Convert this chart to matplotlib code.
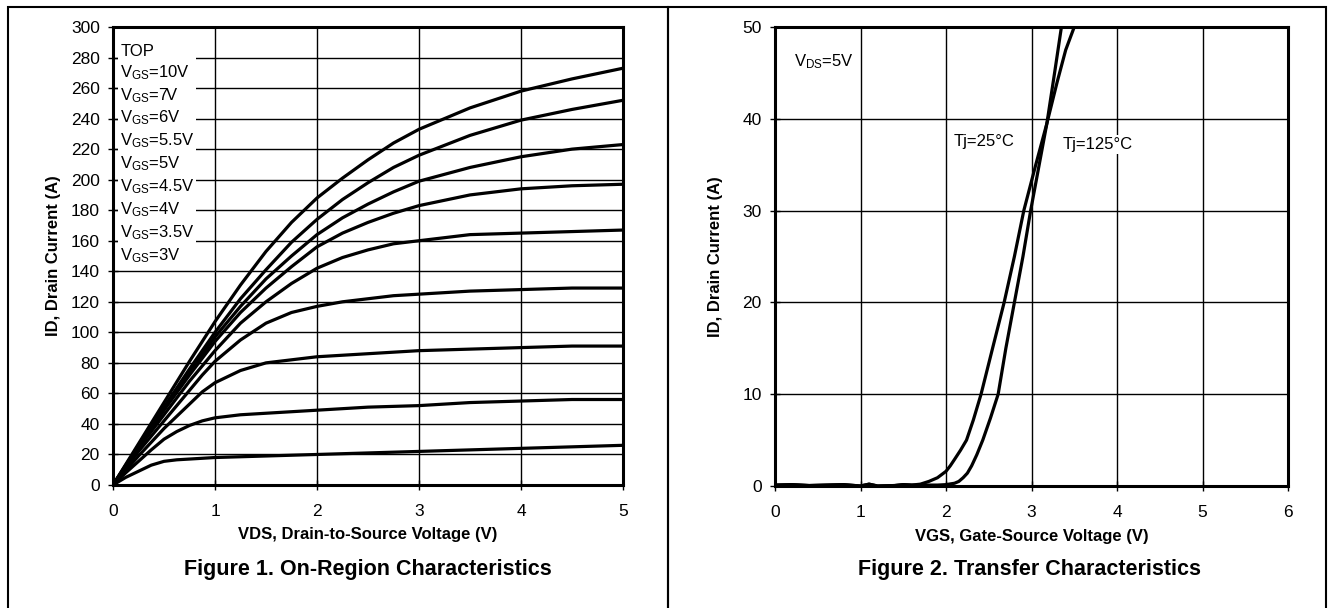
import numpy as np
import matplotlib
matplotlib.use("Agg")
import matplotlib.pyplot as plt
from matplotlib.patches import Rectangle

# --------------------------------------------------------------------------
# Data
# --------------------------------------------------------------------------

# Figure 1 - output curves, ID (A) vs VDS (V)
vds = [0, 0.125, 0.25, 0.375, 0.5, 0.625, 0.75, 0.875, 1.0, 1.25, 1.5, 1.75,
       2.0, 2.25, 2.5, 2.75, 3.0, 3.5, 4.0, 4.5, 5.0]
id_10v = [0, 13.5, 27, 40.5, 54, 67.5, 81, 94, 107, 131, 153, 172,
          188, 201, 213, 224, 233, 247, 258, 266, 273]
id_7v = [0, 13, 26, 38.5, 51, 63.5, 76, 88, 100, 122, 141, 159,
         174, 187, 198, 208, 216, 229, 239, 246, 252]
id_6v = [0, 12.5, 25, 37.5, 50, 62, 74, 85.5, 97, 117, 135, 150,
         164, 175, 184, 192, 199, 208, 215, 220, 223]
id_5v5 = [0, 12.5, 25, 37, 49, 60.5, 72, 83, 94, 113, 129, 143,
          156, 165, 172, 178, 183, 190, 194, 196, 197]
id_5v = [0, 12, 24, 35, 46, 57, 68, 78, 88, 106, 120, 132,
         142, 149, 154, 158, 160, 164, 165, 166, 167]
id_4v5 = [0, 11, 22, 32, 42, 52, 62, 72, 81, 95, 106, 113,
          117, 120, 122, 124, 125, 127, 128, 129, 129]
id_4v = [0, 9.5, 19, 28, 37, 45, 53, 61, 67, 75, 80, 82,
         84, 85, 86, 87, 88, 89, 90, 91, 91]
id_3v5 = [0, 8, 15.5, 23, 30, 35, 39, 42, 44, 46, 47, 48,
          49, 50, 51, 51.5, 52, 54, 55, 56, 56]
id_3v = [0, 5, 9, 13, 15.5, 16.5, 17, 17.5, 18, 18.5, 19, 19.5,
         20, 20.5, 21, 21.5, 22, 23, 24, 25, 26]
output_curves = [id_10v, id_7v, id_6v, id_5v5, id_5v, id_4v5, id_4v, id_3v5, id_3v]
vgs_labels = ["10V", "7V", "6V", "5.5V", "5V", "4.5V", "4V", "3.5V", "3V"]

# Figure 2 - transfer curves, ID (A) vs VGS (V), VDS = 5V
vgs_a = [0, 0.2, 0.4, 0.6, 0.8, 1.0, 1.1, 1.2, 1.4, 1.5, 1.6, 1.7, 1.8, 1.9, 2.0,
         2.05, 2.1, 2.17, 2.24, 2.32, 2.41, 2.55, 2.68, 2.8, 2.91, 3.05, 3.18,
         3.3, 3.4, 3.5]
id_a = [0.1, 0.15, 0.05, 0.1, 0.15, 0.0, 0.2, 0.0, 0.05, 0.15, 0.1, 0.2, 0.5, 0.9, 1.6,
        2.2, 2.9, 3.9, 5.0, 7.2, 10, 15.2, 20, 25, 30, 35, 39.5,
        44, 47.5, 50]
vgs_b = [0, 0.2, 0.4, 0.6, 0.8, 1.0, 1.1, 1.2, 1.4, 1.5, 1.6, 1.7, 1.8, 1.9, 2.0,
         2.1, 2.15, 2.2, 2.25, 2.3, 2.36, 2.43, 2.52, 2.61, 2.7, 2.8, 2.9, 2.99,
         3.09, 3.18, 3.27, 3.35]
id_b = [0.1, 0.15, 0.05, 0.1, 0.15, 0.0, 0.2, 0.0, 0.05, 0.15, 0.1, 0.1, 0.1, 0.1, 0.15,
        0.3, 0.5, 0.9, 1.4, 2.2, 3.4, 5.0, 7.4, 10, 15, 20, 25, 30,
        35, 39.5, 45, 50]

# --------------------------------------------------------------------------
# Style
# --------------------------------------------------------------------------

FONT = ["Liberation Sans", "DejaVu Sans"]
plt.rcParams["font.family"] = FONT
plt.rcParams["mathtext.fontset"] = "custom"
plt.rcParams["mathtext.rm"] = "Liberation Sans"
plt.rcParams["mathtext.it"] = "Liberation Sans"

fig = plt.figure(figsize=(13.3, 6.08), dpi=100)

# panel frames
fig.patches.append(Rectangle((8 / 1330, -0.1), 660 / 1330, 1.1 - 6.5 / 608,
                             transform=fig.transFigure, fill=False, lw=1.5, ec="black"))
fig.patches.append(Rectangle((668 / 1330, -0.1), 658 / 1330, 1.1 - 6.5 / 608,
                             transform=fig.transFigure, fill=False, lw=1.5, ec="black"))

ax1 = fig.add_axes([113 / 1330, 1 - 485 / 608, 510 / 1330, 458 / 608])
ax2 = fig.add_axes([775 / 1330, 1 - 486 / 608, 513 / 1330, 459 / 608])


def style_axes(ax):
    ax.grid(True, color="black", lw=1.0)
    ax.set_axisbelow(True)
    for s in ax.spines.values():
        s.set_linewidth(2.2)
    ax.tick_params(direction="inout", length=7, width=1.0, labelsize=12.5,
                   colors="black")
    ax.tick_params(axis="x", pad=10)
    ax.tick_params(axis="y", pad=6)


# --------------------------------------------------------------------------
# Figure 1
# --------------------------------------------------------------------------

for curve in output_curves:
    ax1.plot(vds, curve, color="black", lw=2.3, solid_capstyle="round")
ax1.set_xlim(0, 5)
ax1.set_ylim(0, 300)
ax1.set_xticks(range(0, 6))
ax1.set_yticks(range(0, 301, 20))
style_axes(ax1)

legend_text = "TOP\n" + "\n".join(r"V$_{\mathrm{GS}}$=" + v for v in vgs_labels)
ax1.text(0.07, 289, legend_text, fontsize=12, va="top", ha="left",
         linespacing=1.3, zorder=5,
         bbox=dict(fc="white", ec="none", pad=1.5))

ax1.set_xlabel("VDS, Drain-to-Source Voltage (V)", fontsize=12, fontweight="bold")
ax1.set_ylabel("ID, Drain Current (A)", fontsize=12, fontweight="bold")
ax1.xaxis.label.set_va("center")
ax1.xaxis.set_label_coords(0.5, (485 - 535) / 458)
ax1.yaxis.label.set_va("center")
ax1.yaxis.set_label_coords((53 - 113) / 510, 0.5)

fig.text(368 / 1330, 1 - 570 / 608, "Figure 1. On-Region Characteristics",
         fontsize=15.5, fontweight="bold", ha="center", va="center")

# --------------------------------------------------------------------------
# Figure 2
# --------------------------------------------------------------------------

ax2.plot(vgs_a, id_a, color="black", lw=2.3)
ax2.plot(vgs_b, id_b, color="black", lw=2.3)
ax2.set_xlim(0, 6)
ax2.set_ylim(0, 50)
ax2.set_xticks(range(0, 7))
ax2.set_yticks(range(0, 51, 10))
style_axes(ax2)

ax2.text(0.22, 46.2, r"V$_{\mathrm{DS}}$=5V", fontsize=12, va="center", ha="left")
ax2.text(2.09, 37.5, "Tj=25\u00b0C", fontsize=12, va="center", ha="left",
         bbox=dict(fc="white", ec="none", pad=1.5), zorder=5)
ax2.text(3.36, 37.2, "Tj=125\u00b0C", fontsize=12, va="center", ha="left",
         bbox=dict(fc="white", ec="none", pad=1.5), zorder=5)

ax2.set_xlabel("VGS, Gate-Source Voltage (V)", fontsize=12, fontweight="bold")
ax2.set_ylabel("ID, Drain Current (A)", fontsize=12, fontweight="bold")
ax2.xaxis.label.set_va("center")
ax2.xaxis.set_label_coords(0.5, (486 - 536) / 459)
ax2.yaxis.label.set_va("center")
ax2.yaxis.set_label_coords((715 - 775) / 513, 0.5)

fig.text(1030 / 1330, 1 - 570 / 608, "Figure 2. Transfer Characteristics",
         fontsize=15.5, fontweight="bold", ha="center", va="center")

fig.savefig("out.png", dpi=100)
